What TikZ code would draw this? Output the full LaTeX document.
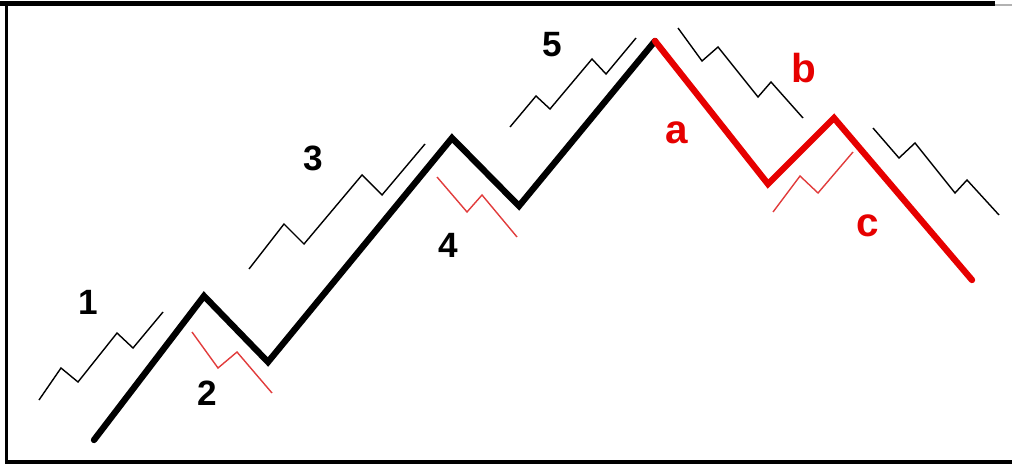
\documentclass[tikz,border=0pt]{standalone}
\usepackage{fontspec}
\setmainfont{Liberation Sans}
\usepackage{xcolor}
\usetikzlibrary{positioning}
\definecolor{wavered}{RGB}{230,0,0}
\definecolor{thinred}{RGB}{225,60,60}

\begin{document}
\begin{tikzpicture}[x=0.01cm,y=-0.01cm,
  every node/.style={font=\bfseries},
  digit/.style={font=\fontsize{10}{10}\selectfont\bfseries,inner sep=0pt},
  letter/.style={font=\fontsize{11.5}{12}\selectfont\bfseries,inner sep=0pt,text=wavered},
  impulse/.style={line width=1.8pt,line join=miter,line cap=round},
  corrective/.style={impulse,draw=wavered},
  subwave/.style={line width=0.4pt},
  subred/.style={line width=0.4pt,draw=thinred}
]
\useasboundingbox (0,0) rectangle (1012,464);
% frame
\draw[line width=1.2pt] (0,3.5) -- (995,3.5);
\draw[line width=0.5pt,gray!60] (995,5) -- (1012,5);
\draw[line width=1.1pt] (6.5,2) -- (6.5,462);
\draw[line width=1.3pt] (5,462) -- (1012,462);
% pivots of the main wave
\coordinate (w0) at (94,440);
\coordinate (w1) at (204,296);
\coordinate (w2) at (268,362);
\coordinate (w3) at (452,138);
\coordinate (w4) at (519,206);
\coordinate (w5) at (655,41);
\coordinate (wa) at (768,184);
\coordinate (wb) at (834,118);
\coordinate (wc) at (972,280);
% impulse 1-5
\draw[impulse] (w0) -- (w1) -- (w2) -- (w3) -- (w4) -- (w5);
% correction a-b-c
\draw[corrective] (w5) -- (wa) -- (wb) -- (wc);
% sub-waves
\draw[subwave] (39,400) -- (61,368) -- (78,382) -- (117,333) -- (133,348) -- (163,312);
\draw[subwave] (249,269) -- (284,224) -- (304,244) -- (362,175) -- (382,195) -- (425,144);
\draw[subwave] (510,127) -- (536,96) -- (550,109) -- (592,59) -- (606,74) -- (636,38);
\draw[subwave] (678,28) -- (702,61) -- (718,47) -- (758,97) -- (771,82) -- (803,118);
\draw[subwave] (873,128) -- (899,158) -- (915,143) -- (955,193) -- (967,180) -- (999,215);
\draw[subred] (192,332) -- (218,368) -- (237,352) -- (272,393);
\draw[subred] (437,177) -- (467,212) -- (482,195) -- (517,237);
\draw[subred] (773,212) -- (800,176) -- (818,193) -- (853,152);
% labels
\node[digit] (l1) at (88,302) {1};
\node[digit] (l2) at (207,393) {2};
\node[digit] (l3) at (313,158) {3};
\node[digit] (l4) at (448,245) {4};
\node[digit] (l5) at (552,45) {5};
\node[letter] (la) at (677,133) {a};
\node[letter] (lb) at (804,68) {b};
\node[letter] (lc) at (868,226) {c};
\end{tikzpicture}
\end{document}
